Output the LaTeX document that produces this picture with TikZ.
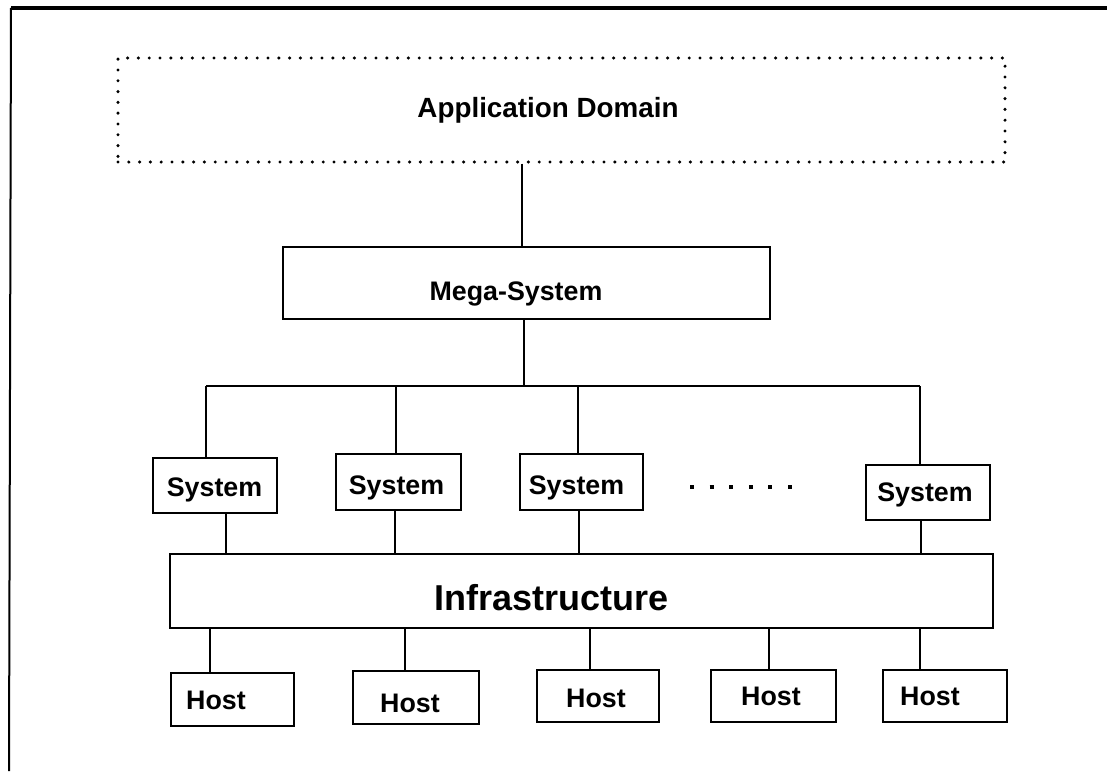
\documentclass[tikz,border=0pt]{standalone}
\usepackage{fontspec}
\setmainfont{Liberation Sans}
\begin{document}
\begin{tikzpicture}[x=0.5pt,y=-0.5pt,
  box/.style={draw, line width=1pt, inner sep=0pt},
  dotbox/.style={draw, line width=1.7pt, line cap=round, dash pattern=on 0pt off 5.4pt, inner sep=0pt},
  wire/.style={line width=1pt},
  lbl/.style={anchor=base, inner sep=0pt, font=\bfseries\fontsize{13.4}{15}\selectfont},
  biglbl/.style={lbl, font=\bfseries\fontsize{18}{21}\selectfont}]
\useasboundingbox (0,0) rectangle (1107,771);

% open frame: top and left edges only
\draw[line width=1.6pt] (1107,8) -- (11,8);
\draw[line width=1pt] (11,8) -- (9,771);

% boxes
\node[dotbox, minimum width=443.5pt, minimum height=52pt] (app) at (561.5,110) {};
\node[box, minimum width=243.5pt, minimum height=36pt] (mega) at (526.5,283) {};
\node[box, minimum width=62pt, minimum height=27.5pt] (s1) at (215,485.5) {};
\node[box, minimum width=62.5pt, minimum height=28pt] (s2) at (398.5,482) {};
\node[box, minimum width=61.5pt, minimum height=28pt] (s3) at (581.5,482) {};
\node[box, minimum width=62pt, minimum height=27.5pt] (s4) at (928,492.5) {};
\node[box, minimum width=411.5pt, minimum height=37pt] (infra) at (581.5,591) {};
\node[box, minimum width=61.5pt, minimum height=26.5pt] (h1) at (232.5,699.5) {};
\node[box, minimum width=63pt, minimum height=26.5pt] (h2) at (416,697.5) {};
\node[box, minimum width=61pt, minimum height=26pt] (h3) at (598,696) {};
\node[box, minimum width=62.5pt, minimum height=26pt] (h4) at (773.5,696) {};
\node[box, minimum width=62pt, minimum height=26pt] (h5) at (945,696) {};

% labels
\node[lbl, font=\bfseries\fontsize{13.9}{16}\selectfont] (appt) at (548,117) {Application Domain};
\node[lbl] (megat) at (516,300) {Mega-System};
\node[lbl] (s1t) at (214.5,496) {System};
\node[lbl] (s2t) at (396.5,494) {System};
\node[lbl] (s3t) at (576.5,494) {System};
\node[lbl] (s4t) at (925,501) {System};
\node[biglbl] (infrat) at (551.5,610) {Infrastructure};
\node[lbl] (h1t) at (216,709) {Host};
\node[lbl] (h2t) at (410,712) {Host};
\node[lbl] (h3t) at (596,707) {Host};
\node[lbl] (h4t) at (771,705) {Host};
\node[lbl] (h5t) at (930,705) {Host};

% ellipsis between the systems
\draw[line width=2.2pt, dash pattern=on 2pt off 7.8pt] (690,487) -- (792,487);

% x positions of the vertical connectors
\coordinate (m1) at (522,0);
\coordinate (m2) at (524,0);
\coordinate (b1) at (206,386);
\coordinate (b2) at (396,386);
\coordinate (b3) at (578,386);
\coordinate (b4) at (920,386);
\coordinate (c1) at (226,0);
\coordinate (c2) at (395,0);
\coordinate (c3) at (579,0);
\coordinate (c4) at (921,0);
\coordinate (d1) at (210,0);
\coordinate (d2) at (405,0);
\coordinate (d3) at (590,0);
\coordinate (d4) at (769,0);
\coordinate (d5) at (920,0);

% application domain to mega-system
\draw[wire] (app.south -| m1) -- (mega.north -| m1);
% mega-system to the system bus
\draw[wire] (mega.south -| m2) -- (b1 -| m2);
\draw[wire] (b1) -- (b4);
\draw[wire] (b1) -- (s1.north -| b1);
\draw[wire] (b2) -- (s2.north -| b2);
\draw[wire] (b3) -- (s3.north -| b3);
\draw[wire] (b4) -- (s4.north -| b4);
% systems to infrastructure
\draw[wire] (s1.south -| c1) -- (infra.north -| c1);
\draw[wire] (s2.south -| c2) -- (infra.north -| c2);
\draw[wire] (s3.south -| c3) -- (infra.north -| c3);
\draw[wire] (s4.south -| c4) -- (infra.north -| c4);
% infrastructure to hosts
\draw[wire] (infra.south -| d1) -- (h1.north -| d1);
\draw[wire] (infra.south -| d2) -- (h2.north -| d2);
\draw[wire] (infra.south -| d3) -- (h3.north -| d3);
\draw[wire] (infra.south -| d4) -- (h4.north -| d4);
\draw[wire] (infra.south -| d5) -- (h5.north -| d5);
\end{tikzpicture}
\end{document}
